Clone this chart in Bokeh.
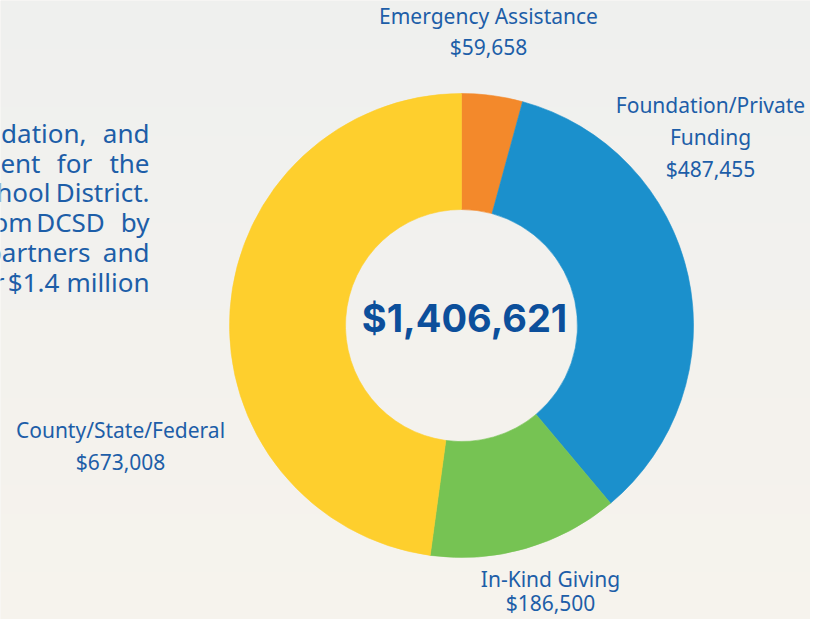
import numpy as np
from math import pi
from bokeh.plotting import figure
from bokeh.models import Range1d, ColumnDataSource
from bokeh.core.properties import value
from bokeh.embed import file_html
from bokeh.resources import INLINE

# ---------------- data ----------------
categories = ["Emergency Assistance", "Foundation/Private Funding", "In-Kind Giving", "County/State/Federal"]
amounts = [59658, 487455, 186500, 673008]
label_lines = [["Emergency Assistance"], ["Foundation/Private", "Funding"], ["In-Kind Giving"], ["County/State/Federal"]]
intro_lines = ["dation, and", "ent for the", "hool District.", "om DCSD by", "partners and", "r $1.4 million"]

# ---------------- style / layout ----------------
colors = ["#f3892b", "#1b90cc", "#76c353", "#fecf2d"]
TEXT = "#1d5ea8"
CENTER = "#0c4f9b"
W, H = 810, 619
TOP = 635
BASE_SHIFT = 0.4   # svg text baseline correction (em)

def Y(ref_y):
    return TOP - ref_y

def TY(baseline, fs):
    return Y(baseline - BASE_SHIFT * fs)

cx, cy = 461, Y(325)
r_in, r_out = 116, 232

LABEL_FS = 21
INTRO_FS = 26
CENTER_FS = 38

# label anchors (centre x, first baseline y) in picture pixels
label_anchor = [(488, 24), (710, 113), (550, 587), (120, 438)]
label_step = [31, 32, 24, 32]

# intro paragraph: per-line word anchors (x, align) for justified look
intro_x = [[(86, "right"), (149, "right")],
           [(40, "right"), (74, "center"), (149, "right")],
           [(50, "right"), (149, "right")],
           [(32, "right"), (70, "center"), (149, "right")],
           [(90, "right"), (149, "right")],
           [(4, "right"), (33, "center"), (149, "right")]]
intro_base = [143, 173, 202, 232, 262, 292]

p = figure(width=W, height=H, output_backend="svg", toolbar_location=None,
           x_range=Range1d(0, W), y_range=Range1d(TOP - H, TOP),
           x_axis_type=None, y_axis_type=None, min_border=0)
p.outline_line_color = None
p.background_fill_color = "#f3f2ee"
p.border_fill_color = "#f3f2ee"

# subtle vertical background gradient
top = np.array([0xef, 0xf0, 0xee], dtype=float)
bot = np.array([0xf6, 0xf3, 0xed], dtype=float)
n = 64
img = np.empty((n, 2), dtype=np.uint32)
view = img.view(dtype=np.uint8).reshape((n, 2, 4))
for i in range(n):
    t = i / (n - 1)  # 0 = bottom
    c = bot * (1 - t) + top * t
    view[i, :, 0] = int(round(c[0]))
    view[i, :, 1] = int(round(c[1]))
    view[i, :, 2] = int(round(c[2]))
    view[i, :, 3] = 255
p.image_rgba(image=[img], x=0, y=TOP - H, dw=W, dh=H)

# donut
total = sum(amounts)
cum = np.cumsum([0] + amounts) / total
src = ColumnDataSource(dict(
    cat=categories,
    start=[pi / 2 - 2 * pi * c for c in cum[1:]],
    end=[pi / 2 - 2 * pi * c for c in cum[:-1]],
    color=colors,
))
p.annular_wedge(x=cx, y=cy, inner_radius=r_in, outer_radius=r_out,
                start_angle="start", end_angle="end", fill_color="color",
                line_color="color", line_width=0.6, source=src)

# center total
p.text(x=[464], y=[TY(333, CENTER_FS)], text=[f"${total:,}"], text_align="center",
       text_baseline="alphabetic", text_font=value("Inter"), text_font_style="bold",
       text_font_size=f"{CENTER_FS}px", text_color=CENTER)

# slice labels
for (ax, ay), step, lines, amt in zip(label_anchor, label_step, label_lines, amounts):
    all_lines = lines + [f"${amt:,}"]
    ys = [TY(ay + k * step, LABEL_FS) for k in range(len(all_lines))]
    p.text(x=[ax] * len(all_lines), y=ys, text=all_lines, text_align="center",
           text_baseline="alphabetic", text_font=value("Noto Sans"),
           text_font_size=f"{LABEL_FS}px", text_color=TEXT)

# cropped, justified intro paragraph on the left
for line, anchors, base in zip(intro_lines, intro_x, intro_base):
    words = line.split(" ")
    for word, (wx, align) in zip(words, anchors):
        p.text(x=[wx], y=[TY(base, INTRO_FS)], text=[word], text_align=align,
               text_baseline="alphabetic", text_font=value("Noto Sans"),
               text_font_size=f"{INTRO_FS}px", text_color=TEXT)

open("out.html", "w").write(file_html(p, INLINE))
